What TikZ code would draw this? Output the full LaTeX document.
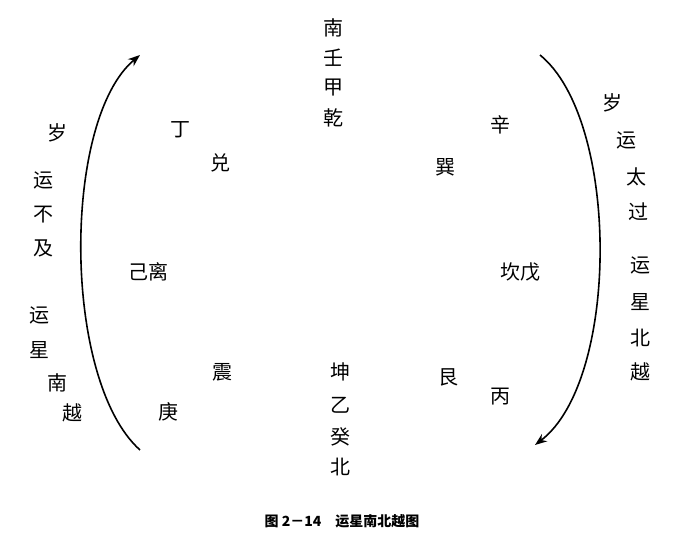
\documentclass[tikz,border=0pt]{standalone}
\usepackage{fontspec}
\setmainfont{Noto Sans CJK SC}
\usetikzlibrary{arrows.meta}
\begin{document}
\begin{tikzpicture}[x=1pt,y=-1pt,
 ch/.style={font=\fontsize{20}{20}\selectfont,inner sep=0pt},
 arc/.style={line width=1.6pt,-{Stealth[length=12pt,width=9pt]}}]
\useasboundingbox (0,0) rectangle (673,537);
\foreach \t/\x/\y/\n in {南/333/28/a1,壬/333/58/a2,甲/333/88/a3,乾/333/118/a4,
 丁/180/130/b1,兑/220/163/b2,己离/148/272/b3,震/222/372/b4,庚/168/412/b5,
 辛/500/125/c1,巽/445/167/c2,坎戊/520/272/c3,艮/448/377/c4,丙/500/397/c5,
 坤/340/372/d1,乙/340/405/d2,癸/340/437/d3,北/340/467/d4,
 岁/57/133/l1,运/44/180/l2,不/44/215/l3,及/44/248/l4,运/40/315/l5,星/40/350/l6,南/57/383/l7,越/72/413/l8,
 岁/612/103/r1,运/626/140/r2,太/636/177/r3,过/638/212/r4,运/640/265/r5,星/640/302/r6,北/640/338/r7,越/640/372/r8}
 \node[ch] (\n) at (\x,\y) {\t};
\node[font=\bfseries\fontsize{14}{14}\selectfont] (cap) at (342,521) {图 2－14\quad 运星南北越图};
\coordinate (ls) at (140,450); \coordinate (le) at (140,55);
\coordinate (rs) at (540,55); \coordinate (re) at (535,445);
\draw[arc] (ls) .. controls (62,380) and (62,120) .. (le);
\draw[arc] (rs) .. controls (620,120) and (620,380) .. (re);
\end{tikzpicture}
\end{document}
